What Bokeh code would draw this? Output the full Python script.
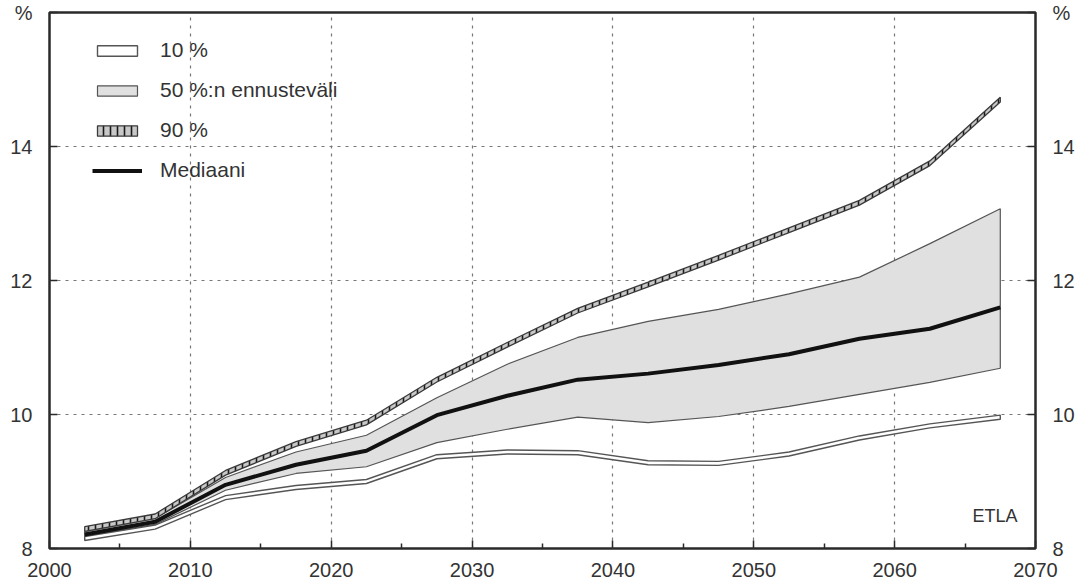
from bokeh.plotting import figure
from bokeh.models import FixedTicker, LinearAxis, Range1d, Legend, LegendItem, Label
from bokeh.embed import file_html
from bokeh.resources import INLINE

# ---- data ----
years = [2002.5, 2007.5, 2012.5, 2017.5, 2022.5, 2027.5, 2032.5,
         2037.5, 2042.5, 2047.5, 2052.5, 2057.5, 2062.5, 2067.5]
median = [8.21, 8.40, 8.95, 9.25, 9.46, 9.99, 10.28,
          10.52, 10.61, 10.74, 10.90, 11.13, 11.28, 11.60]
p75 = [8.25, 8.45, 9.06, 9.44, 9.69, 10.25, 10.75,
       11.15, 11.39, 11.57, 11.80, 12.05, 12.55, 13.07]
p25 = [8.18, 8.36, 8.87, 9.12, 9.22, 9.58, 9.78,
       9.96, 9.88, 9.97, 10.12, 10.30, 10.48, 10.69]
p90 = [8.29, 8.48, 9.13, 9.56, 9.88, 10.52, 11.04,
       11.55, 11.94, 12.34, 12.75, 13.16, 13.75, 14.70]
p10 = [8.15, 8.32, 8.76, 8.91, 9.00, 9.37, 9.44,
       9.43, 9.28, 9.27, 9.41, 9.65, 9.83, 9.96]

x_ticks = [2000, 2010, 2020, 2030, 2040, 2050, 2060, 2070]
x_minor = [2005, 2015, 2025, 2035, 2045, 2055, 2065]
y_ticks = [8, 10, 12, 14, 16]
y_unit = {16: "%"}
labels = ["10 %", "50 %:n ennusteväli", "90 %", "Mediaani"]

FONT = "Liberation Sans"
TXT = "#333333"

p = figure(width=1084, height=584, output_backend="svg", toolbar_location=None,
           x_range=Range1d(2000, 2070), y_range=Range1d(8, 16),
           min_border_left=49, min_border_right=49, min_border_top=12,
           min_border_bottom=36)
p.background_fill_color = "white"
p.border_fill_color = "white"
p.outline_line_color = "#2a2a2a"
p.outline_line_width = 2.5

# grids
p.xgrid.ticker = FixedTicker(ticks=x_ticks[1:-1])
p.ygrid.ticker = FixedTicker(ticks=y_ticks[1:-1])
for g in (p.xgrid, p.ygrid):
    g.grid_line_color = "#777777"
    g.grid_line_dash = "3 5"
    g.grid_line_width = 1.2

# axes
p.xaxis.ticker = FixedTicker(ticks=x_ticks, minor_ticks=x_minor)
p.yaxis.ticker = FixedTicker(ticks=y_ticks)
p.yaxis.major_label_overrides = y_unit
right = LinearAxis(ticker=FixedTicker(ticks=y_ticks), major_label_overrides=y_unit)
p.add_layout(right, "right")
for ax in (p.xaxis[0], p.yaxis[0], right):
    ax.axis_line_color = None
    ax.major_tick_in = 8
    ax.major_tick_out = 0
    ax.minor_tick_in = 5
    ax.minor_tick_out = 0
    ax.major_tick_line_color = "#2a2a2a"
    ax.major_tick_line_width = 1.5
    ax.minor_tick_line_color = "#2a2a2a"
    ax.minor_tick_line_width = 1.5
    ax.major_label_text_font = FONT
    ax.major_label_text_font_size = "20px"
    ax.major_label_text_color = TXT
p.xaxis.major_label_standoff = 14
p.yaxis.major_label_standoff = 17
right.major_label_standoff = 17
right.minor_tick_line_color = None
p.yaxis.minor_tick_line_color = None

# bands as thin strips built from the series
def strip(vals, h):
    xs = years + years[::-1]
    ys = [v + h for v in vals] + [v - h for v in vals[::-1]]
    return xs, ys

band_x = years + years[::-1]
band_y = p75 + p25[::-1]
r50 = p.patch(band_x, band_y, fill_color="#e0e0e0", line_color="#555555", line_width=1.2)

xs10, ys10 = strip(p10, 0.03)
r10 = p.patch(xs10, ys10, fill_color="white", line_color="#555555", line_width=1.4)

rmed = p.line(years, median, line_color="#111111", line_width=4)

xs90, ys90 = strip(p90, 0.035)
r90 = p.patch(xs90, ys90, fill_color="#c8c8c8", line_color="#3a3a3a", line_width=1.3,
              hatch_pattern="vertical_line", hatch_color="#1a1a1a", hatch_scale=7,
              hatch_weight=1.6)

legend = Legend(items=[LegendItem(label=labels[0], renderers=[r10]),
                       LegendItem(label=labels[1], renderers=[r50]),
                       LegendItem(label=labels[2], renderers=[r90]),
                       LegendItem(label=labels[3], renderers=[rmed])],
                location=(43, 366), glyph_width=50, glyph_height=13,
                label_standoff=18, spacing=16, padding=5, margin=0,
                border_line_color=None, background_fill_alpha=0,
                label_text_font=FONT, label_text_font_size="21px",
                label_text_color=TXT)
p.add_layout(legend)

p.add_layout(Label(x=2070, y=8, x_offset=-18, y_offset=33, text="ETLA",
                   text_align="right", text_baseline="middle",
                   text_font=FONT, text_font_size="18px", text_color=TXT))

open("out.html", "w").write(file_html(p, INLINE))
